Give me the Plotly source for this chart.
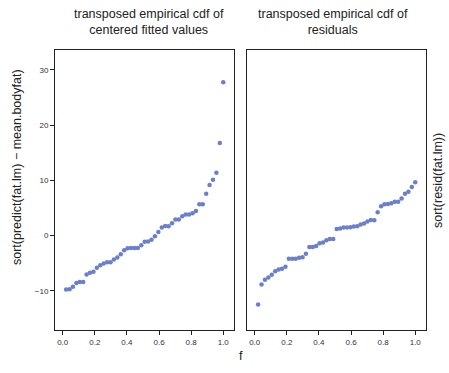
import plotly.graph_objects as go

n = 47
f = [(i + 1) / n for i in range(n)]

fitted_centered = [-9.76, -9.70, -9.28, -8.60, -8.43, -8.43, -7.05, -6.75, -6.57, -5.84,
                   -5.36, -5.06, -4.82, -4.82, -4.34, -3.98, -3.37, -2.65, -2.29, -2.23,
                   -2.23, -2.23, -1.75, -1.14, -1.08, -0.78, -0.12, 0.66, 1.45, 1.75,
                   1.69, 2.23, 2.89, 2.89, 3.49, 3.80, 3.80, 4.04, 4.46, 5.66,
                   5.66, 7.59, 9.16, 10.12, 11.39, 16.75, 27.77]

residuals = [-12.47, -8.86, -8.01, -7.59, -7.11, -6.45, -6.14, -6.02, -5.66, -4.22,
             -4.22, -4.22, -4.04, -3.92, -3.31, -2.05, -2.05, -1.87, -1.39, -1.27,
             -0.84, -0.60, -0.60, 1.20, 1.27, 1.45, 1.45, 1.51, 1.63, 1.69,
             1.99, 2.17, 2.53, 2.83, 2.77, 4.22, 5.30, 5.66, 5.72, 5.84,
             6.14, 6.14, 6.69, 7.59, 7.95, 8.80, 9.64]

x_ticks = [0.0, 0.2, 0.4, 0.6, 0.8, 1.0]
x_ticklabels = ["0.0", "0.2", "0.4", "0.6", "0.8", "1.0"]
y_ticks = [-10, 0, 10, 20, 30]
y_ticklabels = ["\u221210", "0", "10", "20", "30"]

titles = ["transposed empirical cdf of<br>centered fitted values",
          "transposed empirical cdf of<br>residuals"]

pt_color = "#6B7FCC"
font_fam = "Liberation Sans, Arial, sans-serif"

fig = go.Figure()
fig.add_trace(go.Scatter(x=f, y=fitted_centered, mode="markers",
                         marker=dict(color=pt_color, size=4.5, line=dict(width=0)),
                         xaxis="x", yaxis="y", showlegend=False))
fig.add_trace(go.Scatter(x=f, y=residuals, mode="markers",
                         marker=dict(color=pt_color, size=4.5, line=dict(width=0)),
                         xaxis="x2", yaxis="y2", showlegend=False))

W, H = 449, 373
ml, mr, mt, mb = 55, 23, 50, 43
pw = W - ml - mr
ph = H - mt - mb
d1 = [0, (234 - ml) / pw]
d2 = [(247 - ml) / pw, 1]

xr = [-0.048, 1.067]
yr = [-17.1, 33.6]

axis_common = dict(showgrid=False, zeroline=False, showline=True, linecolor="#222",
                   linewidth=1, mirror=True, ticks="outside", ticklen=4,
                   tickcolor="#222", tickfont=dict(size=8, color="#333", family=font_fam))

fig.update_layout(
    width=W, height=H,
    margin=dict(l=ml, r=mr, t=mt, b=mb),
    paper_bgcolor="white", plot_bgcolor="white",
    font=dict(family=font_fam),
    xaxis=dict(domain=d1, range=xr, tickvals=x_ticks, ticktext=x_ticklabels, **axis_common),
    xaxis2=dict(domain=d2, range=xr, tickvals=x_ticks, ticktext=x_ticklabels,
                anchor="y2", **axis_common),
    yaxis=dict(range=yr, tickvals=y_ticks, ticktext=y_ticklabels, **axis_common),
    yaxis2=dict(range=yr, anchor="x2", showgrid=False, zeroline=False, showline=True,
                linecolor="#222", linewidth=1, mirror=True, showticklabels=False,
                ticks="", matches="y"),
)

ann = []
ann.append(dict(text=titles[0], x=148.5 / W, y=1 - 22 / H, xref="paper", yref="paper",
                xanchor="center", yanchor="middle", showarrow=False,
                font=dict(size=12.5, color="#222", family=font_fam)))
ann.append(dict(text=titles[1], x=333 / W, y=1 - 22 / H, xref="paper", yref="paper",
                xanchor="center", yanchor="middle", showarrow=False,
                font=dict(size=12.5, color="#222", family=font_fam)))
ann.append(dict(text="sort(predict(fat.lm) \u2212 mean.bodyfat)", x=17 / W, y=1 - 167 / H,
                xref="paper", yref="paper", xanchor="center", yanchor="middle",
                showarrow=False, textangle=-90,
                font=dict(size=12.5, color="#222", family=font_fam)))
ann.append(dict(text="sort(resid(fat.lm))", x=438 / W, y=1 - 180 / H,
                xref="paper", yref="paper", xanchor="center", yanchor="middle",
                showarrow=False, textangle=-90,
                font=dict(size=12.5, color="#222", family=font_fam)))
ann.append(dict(text="f", x=240.5 / W, y=1 - 356 / H, xref="paper", yref="paper",
                xanchor="center", yanchor="middle", showarrow=False,
                font=dict(size=12.5, color="#222", family=font_fam)))

def to_paper(a):
    px = a["x"] * W
    py = (1 - a["y"]) * H
    a["x"] = (px - ml) / pw
    a["y"] = 1 - (py - mt) / ph
    return a

fig.update_layout(annotations=[to_paper(a) for a in ann])

fig.write_html("out.html", config={"displayModeBar": False},
               post_script="document.body.style.margin='0px';document.body.style.padding='0px';")
